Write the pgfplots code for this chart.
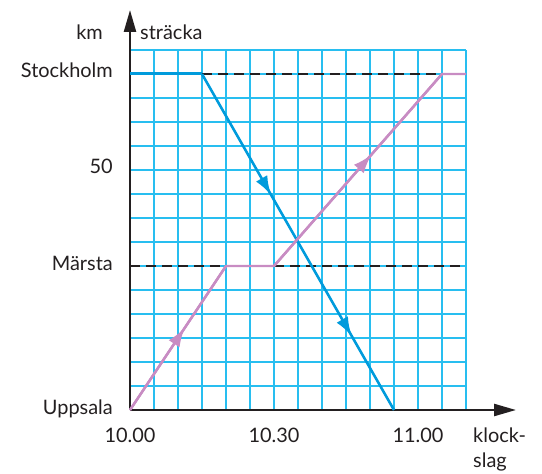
\documentclass[border=0pt]{standalone}
\usepackage{fontspec}
\setmainfont{Lato}
\usepackage{pgfplots}
\pgfplotsset{compat=1.18}
\usetikzlibrary{arrows.meta,decorations.markings,calc}
\definecolor{gridblue}{RGB}{40,190,240}
\definecolor{lineblue}{RGB}{0,155,220}
\definecolor{linepink}{RGB}{200,140,195}
\definecolor{axisgray}{RGB}{35,31,32}
\tikzset{
  arr/.style={postaction={decorate}, decoration={markings,
    mark=at position #1 with {\arrow{Latex[length=19bp,width=13bp]}}}},
}
\begin{document}
\fontsize{20}{24}\selectfont
\begin{tikzpicture}
\begin{axis}[
  scale only axis, width=336bp, height=360bp,
  xmin=0, xmax=70, ymin=0, ymax=75,
  axis lines=left,
  axis line style={line width=2.4bp, axisgray},
  x axis line style={-{Triangle[length=22bp,width=12bp]}, shorten >=-50bp},
  y axis line style={-{Triangle[length=22bp,width=12bp]}, shorten >=-40bp},
  xtick={5,10,...,70},
  xticklabels={,,,,,10.30,,,,,,11.00,,},
  ytick={5,10,...,75},
  yticklabels={,,,,,Märsta,,,,50,,,,Stockholm,},
  extra x ticks={0}, extra x tick labels={10.00},
  extra y ticks={0}, extra y tick labels={Uppsala},
  extra tick style={grid=none},
  grid=major,
  every axis grid/.style={draw=gridblue, line width=2bp},
  major tick length=0pt,
  tick label style={font=\fontsize{20}{24}\selectfont, text=axisgray, inner sep=0pt},
  xticklabel style={anchor=base, yshift=-32bp},
  yticklabel style={anchor=base east, xshift=-17bp, yshift=-4bp},
  clip=false,
]
\coordinate (O) at (axis cs:0,0);
% dashed guide lines
\addplot[axisgray, line width=2.2bp, dash pattern=on 10bp off 6bp] coordinates {(15,70) (70,70)};
\addplot[axisgray, line width=2.2bp, dash pattern=on 10bp off 6bp] coordinates {(0,30) (70,30)};
% Stockholm -> Uppsala
\addplot[lineblue, line width=3bp] coordinates {(0,70) (15,70)};
\addplot[lineblue, line width=2.6bp, postaction={decorate}, decoration={markings,
    mark=at position 0.36 with {\arrow{Latex[length=19bp,width=13bp]}},
    mark=at position 0.78 with {\arrow{Latex[length=19bp,width=13bp]}}}]
  coordinates {(15,70) (55,0)};
% Uppsala -> Stockholm
\addplot[linepink, line width=2.4bp, line join=round] coordinates {(0,0) (20,30) (30,30) (65,70) (70,70)};
\addplot[linepink, line width=2.4bp, arr=0.57] coordinates {(0,0) (20,30)};
\addplot[linepink, line width=2.4bp, arr=0.58] coordinates {(30,30) (65,70)};
\end{axis}
\node[anchor=base east, inner sep=0pt, text=axisgray] at ($(O)+(-27bp,370bp)$) {km};
\node[anchor=base west, inner sep=0pt, text=axisgray] at ($(O)+(10bp,370bp)$) {sträcka};
\node[anchor=base west, inner sep=0pt, text=axisgray] at ($(O)+(343bp,-32bp)$) {klock-};
\node[anchor=base west, inner sep=0pt, text=axisgray] at ($(O)+(343bp,-57bp)$) {slag};
\pgfresetboundingbox
\path (O) ++(-130bp,-64bp) rectangle ++(542bp,474bp);
\end{tikzpicture}
\end{document}
